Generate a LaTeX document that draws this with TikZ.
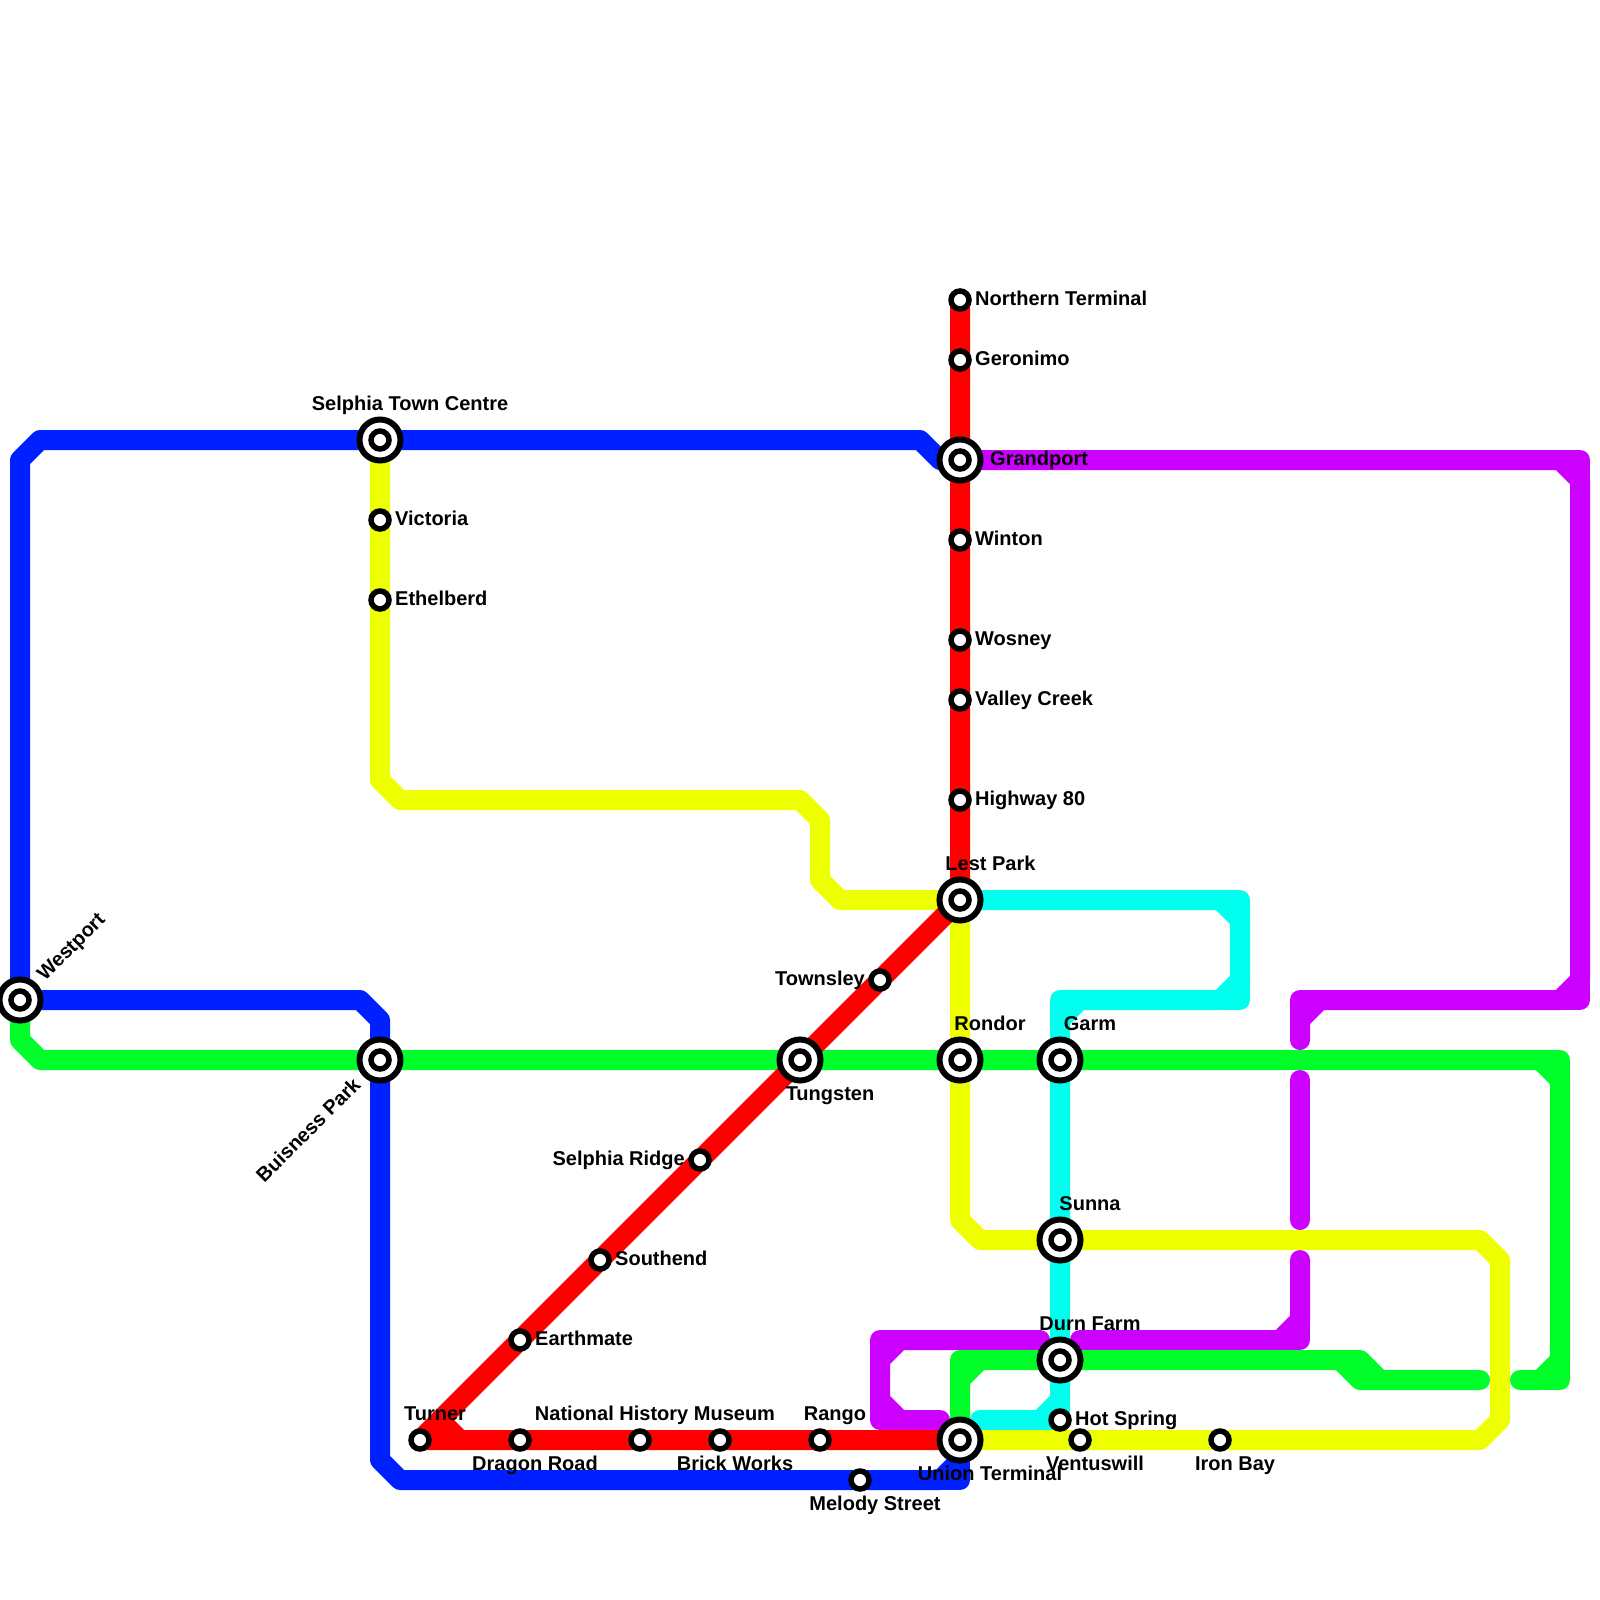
\documentclass[tikz,border=0pt]{standalone}
\usepackage{fontspec}
\setmainfont{Liberation Sans}
\definecolor{lblue}{HTML}{0020FF}
\definecolor{lred}{HTML}{FF0000}
\definecolor{lgreen}{HTML}{00FF2A}
\definecolor{lyellow}{HTML}{EEFF00}
\definecolor{lcyan}{HTML}{00FFEE}
\definecolor{lpurple}{HTML}{CC00FF}
\tikzset{
  metro/.style={line width=20pt,line cap=round,line join=round},
  stopmark/.style={circle,draw=black,fill=white,line width=5.5pt,minimum size=18pt,inner sep=0pt,outer sep=0pt},
  hubmark/.style={circle,draw=black,fill=white,line width=6pt,minimum size=41pt,inner sep=0pt,outer sep=0pt},
  lbl/.style={font=\bfseries\fontsize{20pt}{24pt}\selectfont,inner sep=0pt,text=black},
  lr/.style={lbl,anchor=base west},
  ll/.style={lbl,anchor=base east},
  lc/.style={lbl,anchor=base}
}
\begin{document}
\begin{tikzpicture}[x=1pt,y=-1pt]
\useasboundingbox (0,0) rectangle (1600,1600);
\fill[white] (0,0) rectangle (1600,1600);
% stations
\coordinate (northern) at (960,300);
\coordinate (geronimo) at (960,360);
\coordinate (grandport) at (960,460);
\coordinate (winton) at (960,540);
\coordinate (wosney) at (960,640);
\coordinate (valley) at (960,700);
\coordinate (highway) at (960,800);
\coordinate (lest) at (960,900);
\coordinate (rondor) at (960,1060);
\coordinate (townsley) at (880,980);
\coordinate (tungsten) at (800,1060);
\coordinate (ridge) at (700,1160);
\coordinate (southend) at (600,1260);
\coordinate (earthmate) at (520,1340);
\coordinate (turner) at (420,1440);
\coordinate (dragon) at (520,1440);
\coordinate (museum) at (640,1440);
\coordinate (brick) at (720,1440);
\coordinate (rango) at (820,1440);
\coordinate (union) at (960,1440);
\coordinate (melody) at (860,1480);
\coordinate (hot) at (1060,1420);
\coordinate (ventus) at (1080,1440);
\coordinate (iron) at (1220,1440);
\coordinate (durn) at (1060,1360);
\coordinate (sunna) at (1060,1240);
\coordinate (garm) at (1060,1060);
\coordinate (selphia) at (380,440);
\coordinate (victoria) at (380,520);
\coordinate (ethelberd) at (380,600);
\coordinate (westport) at (20,1000);
\coordinate (business) at (380,1060);
% blue
\draw[metro,lblue] (westport) -- (20,460) -- (40,440) -- (selphia) -- (920,440) -- (940,460) -- (grandport);
\draw[metro,lblue] (westport) -- (360,1000) -- (380,1020) -- (business) -- (380,1460) -- (400,1480) -- (940,1480) -- (960,1460) -- (union);
\draw[metro,lblue] (940,1480) -- (960,1480) -- (960,1460);
% purple
\draw[metro,lpurple] (grandport) -- (1560,460) -- (1580,480) -- (1580,980) -- (1560,1000) -- (1320,1000) -- (1300,1020) -- (1300,1040);
\draw[metro,lpurple] (1560,460) -- (1580,460) -- (1580,480);
\draw[metro,lpurple] (1580,980) -- (1580,1000) -- (1560,1000);
\draw[metro,lpurple] (1320,1000) -- (1300,1000) -- (1300,1020);
\draw[metro,lpurple] (1300,1080) -- (1300,1220);
\draw[metro,lpurple] (1300,1260) -- (1300,1320) -- (1280,1340) -- (1080,1340);
\draw[metro,lpurple] (1300,1320) -- (1300,1340) -- (1280,1340);
\draw[metro,lpurple] (1040,1340) -- (900,1340) -- (880,1360) -- (880,1400) -- (900,1420) -- (940,1420);
\draw[metro,lpurple] (900,1340) -- (880,1340) -- (880,1360);
\draw[metro,lpurple] (880,1400) -- (880,1420) -- (900,1420);
% cyan
\draw[metro,lcyan] (lest) -- (1220,900) -- (1240,920) -- (1240,980) -- (1220,1000) -- (1080,1000) -- (1060,1020) -- (garm) -- (sunna) -- (durn) -- (1060,1400) -- (1040,1420) -- (980,1420);
\draw[metro,lcyan] (1220,900) -- (1240,900) -- (1240,920);
\draw[metro,lcyan] (1240,980) -- (1240,1000) -- (1220,1000);
\draw[metro,lcyan] (1080,1000) -- (1060,1000) -- (1060,1020);
\draw[metro,lcyan] (1060,1400) -- (hot) -- (1040,1420);
% yellow
\draw[metro,lyellow] (selphia) -- (victoria) -- (ethelberd) -- (380,780) -- (400,800) -- (800,800) -- (820,820) -- (820,880) -- (840,900) -- (lest) -- (rondor) -- (960,1220) -- (980,1240) -- (sunna) -- (1480,1240) -- (1500,1260) -- (1500,1420) -- (1480,1440) -- (iron) -- (ventus) -- (union);
% green
\draw[metro,lgreen] (westport) -- (20,1040) -- (40,1060) -- (business) -- (tungsten) -- (rondor) -- (garm) -- (1540,1060) -- (1560,1080) -- (1560,1360) -- (1540,1380) -- (1520,1380);
\draw[metro,lgreen] (1540,1060) -- (1560,1060) -- (1560,1080);
\draw[metro,lgreen] (1560,1360) -- (1560,1380) -- (1540,1380);
\draw[metro,lgreen] (union) -- (960,1380) -- (980,1360) -- (durn) -- (1360,1360) -- (1380,1380) -- (1480,1380);
\draw[metro,lgreen] (980,1360) -- (960,1360) -- (960,1380);
\draw[metro,lgreen] (1340,1360) -- (1360,1380) -- (1380,1380);
% red
\draw[metro,lred] (northern) -- (geronimo) -- (grandport) -- (winton) -- (wosney) -- (valley) -- (highway) -- (lest) -- (townsley) -- (tungsten) -- (ridge) -- (southend) -- (earthmate) -- (turner) -- (dragon) -- (museum) -- (brick) -- (rango) -- (union);
\draw[metro,lred] (440,1420) -- (460,1440);
% station marks
\foreach \s in {northern,geronimo,winton,wosney,valley,highway,townsley,ridge,southend,earthmate,turner,dragon,museum,brick,rango,melody,hot,ventus,iron,victoria,ethelberd}
  \node[stopmark] (m\s) at (\s) {};
\foreach \s in {grandport,lest,rondor,tungsten,union,durn,sunna,garm,selphia,westport,business}{
  \node[hubmark] (h\s) at (\s) {};
  \node[stopmark] (m\s) at (\s) {};
}
% labels
\node[lr] (tnorthern) at (975,305) {Northern Terminal};
\node[lr] (tgeronimo) at (975,365) {Geronimo};
\node[lr] (tgrandport) at (990,465) {Grandport};
\node[lr] (twinton) at (975,545) {Winton};
\node[lr] (twosney) at (975,645) {Wosney};
\node[lr] (tvalley) at (975,705) {Valley Creek};
\node[lr] (thighway) at (975,805) {Highway 80};
\node[lc] (tlest) at (990.5,870) {Lest Park};
\node[lc] (trondor) at (990,1030) {Rondor};
\node[lc] (tgarm) at (1090,1030) {Garm};
\node[lc] (tsunna) at (1090,1210) {Sunna};
\node[lc] (tdurn) at (1090,1330) {Durn Farm};
\node[lc] (tselphia) at (410,410) {Selphia Town Centre};
\node[lr] (tvictoria) at (395,525) {Victoria};
\node[lr] (tethelberd) at (395,605) {Ethelberd};
\node[ll] (ttownsley) at (865,985) {Townsley};
\node[ll] (tridge) at (685,1165) {Selphia Ridge};
\node[lr] (tsouthend) at (615,1265) {Southend};
\node[lr] (tearthmate) at (535,1345) {Earthmate};
\node[lc] (ttungsten) at (830,1100) {Tungsten};
\node[lc] (tturner) at (435,1420) {Turner};
\node[lc] (tmuseum) at (655,1420) {National History Museum};
\node[lc] (trango) at (835,1420) {Rango};
\node[lc] (tdragon) at (535,1470) {Dragon Road};
\node[lc] (tbrick) at (735,1470) {Brick Works};
\node[lc] (tunion) at (990,1480) {Union Terminal};
\node[lc] (tmelody) at (875,1510) {Melody Street};
\node[lc] (tventus) at (1095,1470) {Ventuswill};
\node[lc] (tiron) at (1235,1470) {Iron Bay};
\node[lr] (thot) at (1075,1425) {Hot Spring};
\node[lr,rotate=45] (twestport) at (45,982) {Westport};
\node[ll,rotate=45] (tbusiness) at (362,1086) {Buisness Park};
\end{tikzpicture}
\end{document}
